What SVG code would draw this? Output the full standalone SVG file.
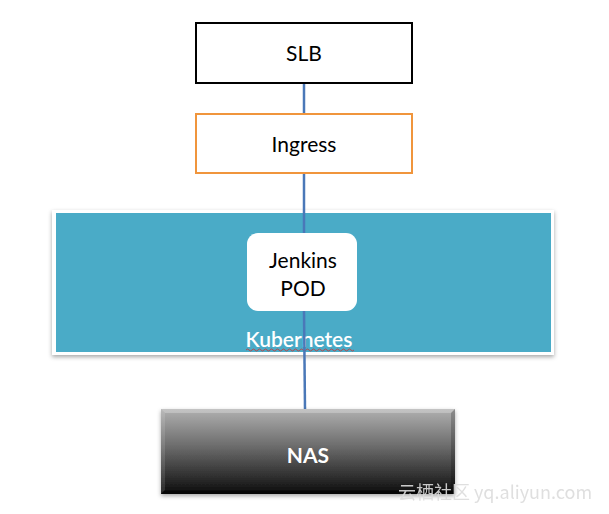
<svg xmlns="http://www.w3.org/2000/svg" width="609" height="514" viewBox="0 0 609 514">
<defs>
<linearGradient id="nasGrad" x1="0" y1="0" x2="0" y2="1">
<stop offset="0" stop-color="#b0b0b0"/>
<stop offset="0.45" stop-color="#6a6a6a"/>
<stop offset="1" stop-color="#0c0c0c"/>
</linearGradient>
<filter id="shadow" x="-5%" y="-10%" width="110%" height="125%">
<feDropShadow dx="0" dy="2" stdDeviation="2" flood-color="#000" flood-opacity="0.35"/>
</filter>
</defs>
<style>
.lbl{font-family:Lato,"Open Sans","Noto Sans",sans-serif;font-size:21px;text-anchor:middle;fill:#000}
.wlbl{font-family:Lato,"Open Sans","Noto Sans",sans-serif;font-size:21px;text-anchor:middle;fill:#fff}
.conn{stroke:#4a78b8;stroke-width:2.5;fill:none}
</style>
<rect width="609" height="514" fill="#fff"/>
<g id="kubernetes">
<rect x="52" y="210" width="502" height="145" fill="#fff" filter="url(#shadow)"/>
<rect x="56" y="213" width="495" height="139" fill="#4aabc7"/>
<text class="wlbl" x="299" y="347" style="font-weight:600">Kubernetes</text>
<path d="M246 350 q1.5 -2 3 0 t3 0 t3 0 t3 0 t3 0 t3 0 t3 0 t3 0 t3 0 t3 0 t3 0 t3 0 t3 0 t3 0 t3 0 t3 0 t3 0 t3 0 t3 0 t3 0 t3 0 t3 0 t3 0 t3 0 t3 0 t3 0 t3 0 t3 0 t3 0 t3 0 t3 0 t3 0 t3 0 t3 0 t3 0 t3 0" stroke="#d0302a" stroke-width="0.8" fill="none"/>
</g>
<g id="connectors">
<line class="conn" x1="304" y1="83" x2="304" y2="113"/>
<line class="conn" x1="304" y1="173" x2="304" y2="233"/>
<line class="conn" x1="304" y1="311" x2="305" y2="409"/>
</g>
<g id="slb">
<rect x="196" y="23" width="216" height="60" fill="#fff" stroke="#000" stroke-width="2"/>
<text class="lbl" x="304" y="61">SLB</text>
</g>
<g id="ingress">
<rect x="196" y="114" width="216" height="59" fill="#fff" stroke="#f0953c" stroke-width="2"/>
<text class="lbl" x="304" y="152">Ingress</text>
</g>
<g id="jenkins">
<rect x="247" y="233" width="110" height="78" rx="11" fill="#fff"/>
<text class="lbl" x="303" y="268">Jenkins</text>
<text class="lbl" x="303" y="296">POD</text>
</g>
<g id="nas">
<rect x="161" y="409" width="294" height="85" fill="url(#nasGrad)" filter="url(#shadow)"/>
<path d="M161 409 L455 409 L451 413 L165 413 Z" fill="#fff" opacity="0.25"/>
<path d="M161 409 L165 413 L165 490 L161 494 Z" fill="#fff" opacity="0.12"/>
<path d="M455 409 L451 413 L451 490 L455 494 Z" fill="#000" opacity="0.2"/>
<path d="M161 494 L165 490 L451 490 L455 494 Z" fill="#000" opacity="0.4"/>
<text class="wlbl" x="308" y="463" style="font-weight:bold">NAS</text>
</g>
<text x="398" y="499" font-family="'Noto Sans CJK SC','Noto Sans',sans-serif" font-size="18" fill="#dcdcdc" opacity="0.9">云栖社区 yq.aliyun.com</text>
</svg>
